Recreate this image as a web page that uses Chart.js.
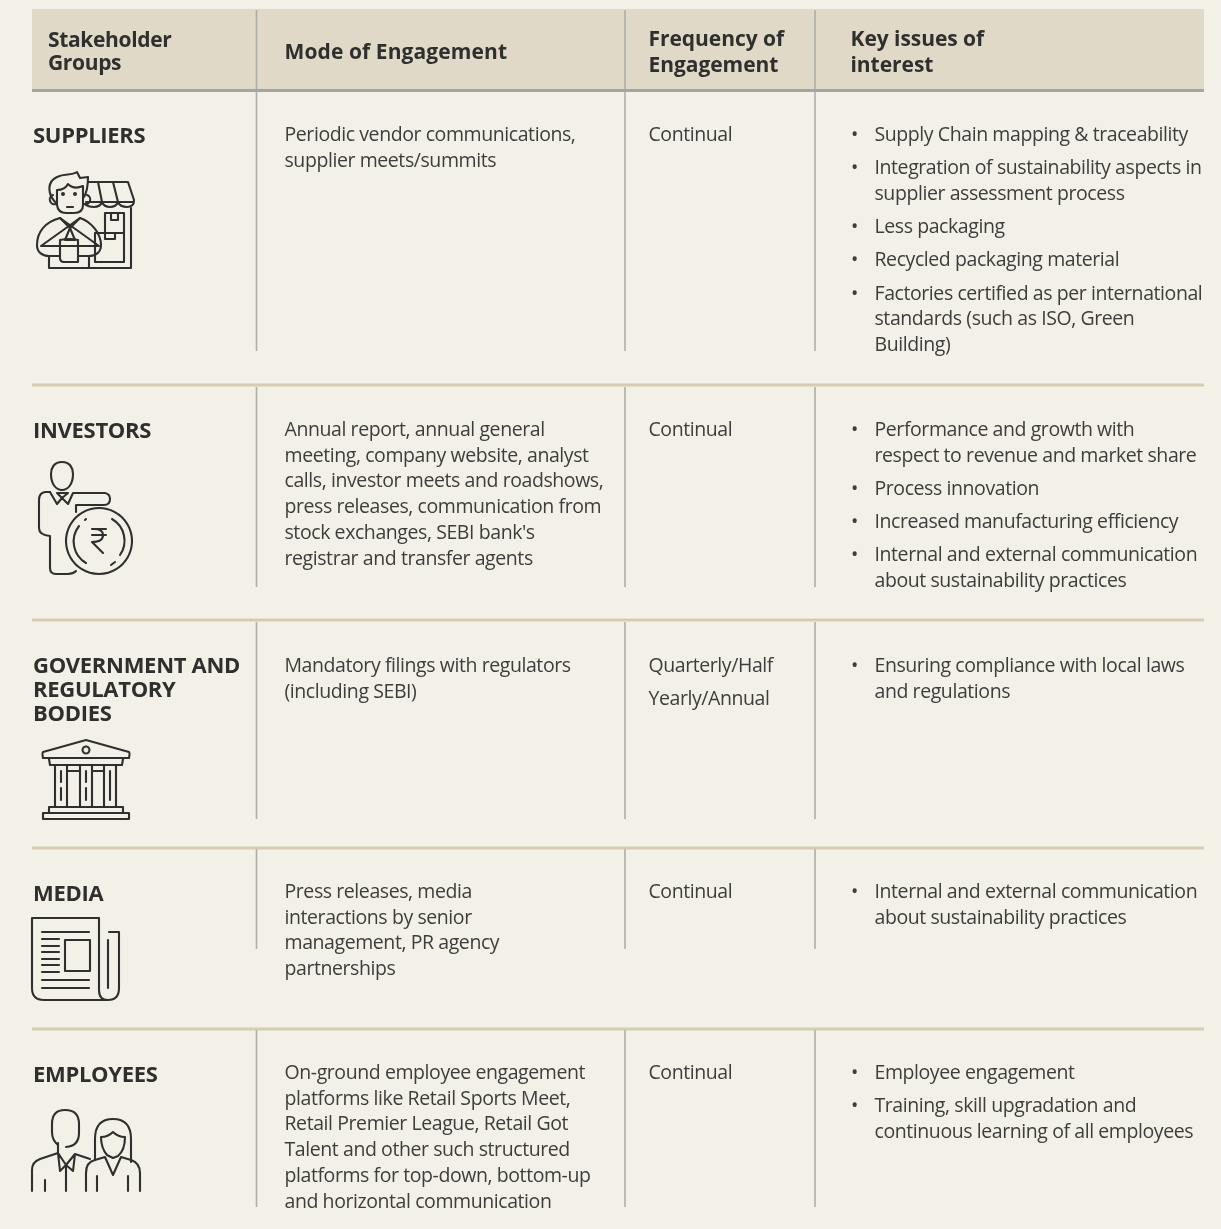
<!DOCTYPE html>
<html>
<head>
<meta charset="utf-8">
<title>Stakeholder engagement</title>
<script src="https://cdn.jsdelivr.net/npm/chart.js@4"></script>
<style>
	html, body { margin: 0; padding: 0; background: #f3f0e8; }
	canvas { display: block; }
</style>
</head>
<body>
<canvas id="chart-table" width="1221" height="1229"></canvas>
<script>
const headers = [
	['Stakeholder', 'Groups'],
	['Mode of Engagement'],
	['Frequency of', 'Engagement'],
	['Key issues of', 'interest'],
];

const groups = [
	['SUPPLIERS'],
	['INVESTORS'],
	['GOVERNMENT AND', 'REGULATORY', 'BODIES'],
	['MEDIA'],
	['EMPLOYEES'],
];

const modes = [
	['Periodic vendor communications,', 'supplier meets/summits'],
	['Annual report, annual general', 'meeting, company website, analyst', 'calls, investor meets and roadshows,', 'press releases, communication from', "stock exchanges, SEBI bank's", 'registrar and transfer agents'],
	['Mandatory filings with regulators', '(including SEBI)'],
	['Press releases, media', 'interactions by senior', 'management, PR agency', 'partnerships'],
	['On-ground employee engagement', 'platforms like Retail Sports Meet,', 'Retail Premier League, Retail Got', 'Talent and other such structured', 'platforms for top-down, bottom-up', 'and horizontal communication'],
];

const frequencies = [
	[['Continual']],
	[['Continual']],
	[['Quarterly/Half'], ['Yearly/Annual']],
	[['Continual']],
	[['Continual']],
];

const issues = [
	[['Supply Chain mapping & traceability'], ['Integration of sustainability aspects in', 'supplier assessment process'], ['Less packaging'], ['Recycled packaging material'], ['Factories certified as per international', 'standards (such as ISO, Green', 'Building)']],
	[['Performance and growth with', 'respect to revenue and market share'], ['Process innovation'], ['Increased manufacturing efficiency'], ['Internal and external communication', 'about sustainability practices']],
	[['Ensuring compliance with local laws', 'and regulations']],
	[['Internal and external communication', 'about sustainability practices']],
	[['Employee engagement'], ['Training, skill upgradation and', 'continuous learning of all employees']],
];

// layout of the table, in scale units (the scales run 0-1221 and 0-1229)
const LEFT = 32, RIGHT = 1204;
const COLS = [256.5, 625, 815];
const ROW_TEXT_Y = [141, 436, 672, 898, 1079];
const GROUP_TEXT_Y = [143, 438, 673, 901, 1082];
const ROW_RULES = [385, 620, 848, 1029];
const COL_SPANS = [[10, 351], [387, 587], [622, 819], [849, 949], [1030, 1207]];
const LINE_H = 25.7, ITEM_H = 33.2, BOLD_H = 24;

const BAND = '#e0d9c8', INK = '#3d3d3b', BOLD_INK = '#2f2f2d', ICON = '#2f2f2d';
const FONT = '"Open Sans"';

const icons = [
	[
		'M56,203C48,195 46,182 57,177C65,173 71,176 77,172L80,178L88,177C88,185 87,192 84,197',
		'M57,190L57,205Q58,213 66,213L74,213Q83,213 83,205L83,186Q74,190 68,184Q65,190 57,190',
		'M53,195A4,4 0 0,0 56,204M87,195A4,4 0 0,1 84,204M67,207L73,207',
		'M60,218C45,222 37,232 37,245C37,252 42,256 49,256L49,268L131,268L131,208',
		'M60,218L70,228L80,218C92,222 101,234 101,245C101,252 96,256 89,256',
		'M60,218L99,246L41,246L80,218M70,228L65,240L75,240L70,228',
		'M60,240L60,258Q60,262 64,262L78,262L78,240Q70,238 60,240M49,246L60,246M78,246L90,246M49,256L60,256M78,256L89,256M89,256L89,268',
		'M89,182L128,182L134,200Q134,207 127,207Q120,207 118,202Q116,207 110,207Q104,207 102,202Q100,207 94,207Q88,207 85,204M86,202L134,202',
		'M98,182L102,202M113,182L118,202',
		'M105,213L124,213L124,233L105,233ZM111,213L111,220L118,220L118,213',
		'M105,233L105,239L115,239L115,233M95,233L95,262L124,262L124,233M95,233L105,233',
	],
	[
		'M62,462C54,462 51,468 51,474C51,484 56,490 62,490C68,490 73,484 73,474C73,468 70,462 62,462',
		'M50,492L45,492Q39,493 39,500L39,528Q39,535 50,536L50,568Q50,574 56,574L68,574Q73,574 76,571',
		'M50,492L57,504L62,498L68,504L73,493L105,493Q110,494 110,499Q110,505 104,505L76,505L76,512',
		'M57,493L62,498L68,493L57,493',
		'M99,508A33,33 0 1,0 99.01,508',
		'M79,526A25,25 0 0,0 86,563M86,519L85,520M112,519A25,25 0 0,1 120,555M111,565L115,562',
		'M92,529L106,529M92,535L106,535M94,529Q103,529 103,535Q103,542 92,542L103,553',
	],
	[
		'M86,740L43,752Q42,753 43,758L129,758Q130,753 129,752Z',
		'M86,746.5A3.5,3.5 0 1,0 86.01,746.5',
		'M49,759L50,765L122,765L123,759',
		'M55,766L55,806M67,766L67,806M80,766L80,806M92,766L92,806M104,766L104,806M116,766L116,806',
		'M61,771L61,782M61,788L61,800M86,771L86,782M86,788L86,800M110,771L110,800',
		'M67,771L80,771M92,771L104,771',
		'M49,807L123,807L123,813L49,813ZM43,813L129,813L129,819L43,819Z',
	],
	[
		'M108,1000L44,1000Q32,1000 32,988L32,918L99,918L99,990Q99,1000 108,1000Q119,1000 119,988L119,932L109,932',
		'M108,940L108,988',
		'M42,932L89,932M42,939L59,939M42,946L59,946M42,952L59,952M42,959L59,959M42,965L59,965M42,972L59,972M42,980L89,980M42,988L89,988',
		'M65,940L90,940L90,971L65,971Z',
	],
	[
		'M58,1145Q52,1140 52,1132L52,1124Q52,1110 65,1110Q79,1110 79,1124L79,1133Q79,1146 66,1147',
		'M58,1143L58,1153L40,1159Q32,1162 32,1170L32,1191M45,1180L45,1191M66,1167L66,1191',
		'M58,1153L60,1171L66,1165L73,1171L75,1154M58,1153L66,1165L75,1154M75,1154L90,1159',
		'M95,1160L95,1139Q95,1119 113,1119Q131,1119 131,1139L131,1162',
		'M101,1137Q108,1137 113,1132Q118,1137 125,1137Q125,1150 118,1156L113,1158L107,1155Q101,1148 101,1137',
		'M86,1191L86,1173Q86,1162 95,1160L105,1157L113,1175L121,1157L131,1160Q140,1163 140,1173L140,1191',
		'M97,1176L97,1191M128,1176L128,1191',
	],
];
const ICON_DOTS = [[63, 194], [75, 194]];

// gaps between the vertical rules are null points, so one dataset per colour is enough
const colRulePoints = [];
COLS.forEach(x => {
	COL_SPANS.forEach(span => {
		colRulePoints.push({ x: x, y: span[0] }, { x: x, y: span[1] }, { x: x, y: null });
	});
});

const rowRulePoints = [];
ROW_RULES.forEach(y => {
	rowRulePoints.push({ x: LEFT, y: y }, { x: RIGHT, y: y }, { x: RIGHT, y: null });
});

const data = {
	datasets: [
		{ data: colRulePoints, borderColor: '#adadaa', borderWidth: 1.6, pointRadius: 0, spanGaps: false, tension: 0, order: 1 },
		{ data: rowRulePoints, borderColor: '#d6ccb2', borderWidth: 3, pointRadius: 0, spanGaps: false, tension: 0, order: 1 },
		{ data: [{ x: LEFT, y: 90.5 }, { x: RIGHT, y: 90.5 }], borderColor: '#a5a5a0', borderWidth: 3, pointRadius: 0, tension: 0, order: 0 },
	]
};

const tablePlugin = {
	id: 'tablePlugin',
	beforeDatasetsDraw(chart) {
		const { ctx, scales: { x, y } } = chart;
		ctx.save();
		ctx.fillStyle = BAND;
		ctx.fillRect(x.getPixelForValue(LEFT), y.getPixelForValue(9), x.getPixelForValue(RIGHT) - x.getPixelForValue(LEFT), y.getPixelForValue(89) - y.getPixelForValue(9));
		ctx.restore();
	},
	afterDatasetsDraw(chart) {
		const { ctx, scales: { x, y } } = chart;

		function text(str, tx, ty, font, color, spacing) {
			ctx.font = font;
			ctx.fillStyle = color;
			ctx.letterSpacing = spacing;
			ctx.fillText(str, x.getPixelForValue(tx), y.getPixelForValue(ty));
		}

		const bodyFont = '19.5px ' + FONT;
		const boldFont = '700 21px ' + FONT;
		const groupFont = '700 22px ' + FONT;
		const bodySp = '-0.42px', headSp = '-0.05px', groupSp = '-0.3px';

		ctx.save();
		ctx.textAlign = 'left';
		ctx.textBaseline = 'alphabetic';

		text(headers[0][0], 48, 47, boldFont, BOLD_INK, '-0.35px');
		text(headers[0][1], 48, 70, boldFont, BOLD_INK, '-0.35px');
		text(headers[1][0], 284.5, 59, boldFont, BOLD_INK, '0.1px');
		text(headers[2][0], 648.5, 46, boldFont, BOLD_INK, headSp);
		text(headers[2][1], 648.5, 72, boldFont, BOLD_INK, headSp);
		text(headers[3][0], 850.5, 46, boldFont, BOLD_INK, headSp);
		text(headers[3][1], 850.5, 72, boldFont, BOLD_INK, headSp);

		groups.forEach((lines, r) => {
			lines.forEach((line, i) => text(line, 33, GROUP_TEXT_Y[r] + i * BOLD_H, groupFont, BOLD_INK, groupSp));
		});

		modes.forEach((lines, r) => {
			lines.forEach((line, i) => text(line, 284.5, ROW_TEXT_Y[r] + i * LINE_H, bodyFont, INK, bodySp));
		});

		frequencies.forEach((items, r) => {
			let ty = ROW_TEXT_Y[r];
			items.forEach(lines => {
				lines.forEach(line => {
					text(line, 648.5, ty, bodyFont, INK, bodySp);
					ty += LINE_H;
				});
				ty += ITEM_H - LINE_H;
			});
		});

		issues.forEach((items, r) => {
			let ty = ROW_TEXT_Y[r];
			items.forEach(lines => {
				text('•', 851, ty, bodyFont, INK, bodySp);
				lines.forEach(line => {
					text(line, 874.5, ty, bodyFont, INK, bodySp);
					ty += LINE_H;
				});
				ty += ITEM_H - LINE_H;
			});
		});

		// the small pictograms next to the group names
		ctx.strokeStyle = ICON;
		ctx.fillStyle = ICON;
		ctx.lineWidth = 2.1;
		ctx.lineJoin = 'round';
		ctx.lineCap = 'round';
		icons.forEach(paths => {
			paths.forEach(d => ctx.stroke(new Path2D(d)));
		});
		ICON_DOTS.forEach(p => {
			ctx.beginPath();
			ctx.arc(p[0], p[1], 2, 0, Math.PI * 2);
			ctx.fill();
		});
		ctx.restore();
	}
};

const config = {
	type: 'line',
	data: data,
	plugins: [tablePlugin],
	options: {
		responsive: false,
		animation: false,
		layout: { padding: 0 },
		plugins: {
			legend: { display: false },
			tooltip: { enabled: false },
		},
		scales: {
			x: { type: 'linear', display: false, min: 0, max: 1221 },
			y: { type: 'linear', display: false, min: 0, max: 1229, reverse: true },
		}
	},
};

document.addEventListener('DOMContentLoaded', () => {
	const ctx = document.getElementById('chart-table');
	const chartTable = new Chart(ctx, config);
});
</script>
</body>
</html>
